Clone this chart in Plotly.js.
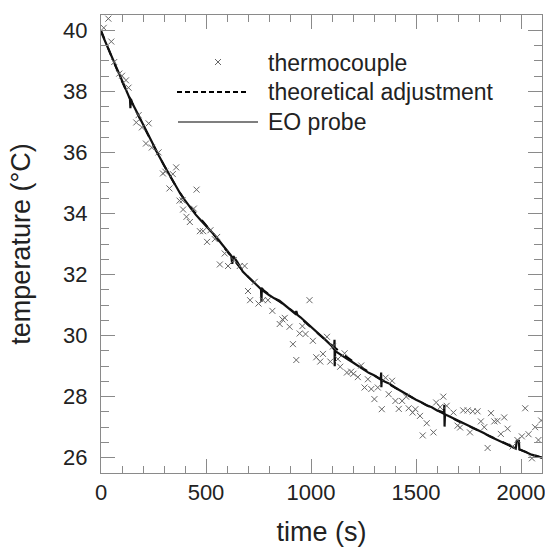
<!DOCTYPE html>
<html>
<head>
<meta charset="utf-8">
<script src="https://cdn.plot.ly/plotly-3.0.1.min.js"></script>
<style>html,body{margin:0;padding:0;background:#fff;}#chart{width:545px;height:547px;}</style>
</head>
<body>
<div id="chart"></div>
<script>
// thermocouple readings (time s, temperature °C)
var tcTime = [13,35,49,63,87,100,119,131,168,179,195,227,214,242,274,295,306,326,342,358,374,388,391,407,423,442,455,471,486,505,521,542,553,566,589,605,632,661,684,700,710,732,750,771,795,816,851,864,875,898,914,930,946,959,974,993,1009,1025,1044,1057,1076,1092,1104,1128,1139,1160,1171,1191,1202,1223,1239,1255,1271,1287,1302,1318,1337,1355,1370,1386,1402,1418,1434,1453,1465,1484,1497,1519,1532,1551,1583,1596,1615,1630,1646,1678,1698,1710,1725,1746,1757,1770,1793,1809,1825,1841,1857,1873,1888,1904,1920,1936,1960,1983,2004,2020,2036,2052,2067,2083,2096];
var tcTemp = [40.08,40.38,39.63,38.96,38.58,38.51,38.36,38.12,36.98,37.22,36.82,36.95,36.29,36.16,36.0,35.31,35.37,34.82,35.29,35.51,34.42,34.43,34.13,33.89,33.72,34.16,34.78,33.42,33.42,33.07,33.45,33.16,33.23,32.33,32.69,32.28,32.47,32.28,32.28,31.46,31.16,31.76,31.05,31.16,31.16,30.81,30.38,30.53,30.58,30.29,29.72,29.2,30.07,30.31,30.05,31.16,29.83,29.29,29.15,29.4,29.96,29.15,29.64,29.23,28.98,29.42,28.79,28.82,28.75,28.64,29.02,28.3,28.57,28.25,27.92,28.3,27.59,28.62,28.08,28.52,27.86,27.6,27.86,28.0,27.62,27.48,27.59,27.37,26.73,27.13,26.83,27.81,27.66,28.0,27.7,27.48,27.05,26.99,27.55,27.55,26.83,27.52,27.52,27.19,27.0,26.32,27.46,27.19,27.21,26.78,27.32,26.95,26.37,26.58,26.7,27.62,26.77,25.98,27.0,26.58,27.22];

// theoretical adjustment (read every 100 s)
var fitTime = [0,100,200,300,400,500,600,700,800,900,1000,1100,1200,1300,1400,1500,1600,1700,1800,1900,2000,2100];
var fitTemp = [40.0,38.33,36.9,35.58,34.43,33.62,32.77,31.93,31.35,30.87,30.27,29.68,29.15,28.7,28.3,27.9,27.55,27.2,26.88,26.55,26.25,26.0];

// EO probe readings
var eoTime = [0,25,50,75,100,125,138,140,142,150,175,200,225,250,275,300,325,350,375,400,425,450,475,500,525,550,575,600,620,625,630,650,675,700,725,750,762,764,766,775,800,825,850,875,900,925,930,935,950,975,1000,1025,1050,1075,1100,1110,1112,1113,1115,1125,1150,1175,1200,1225,1250,1275,1300,1325,1332,1334,1335,1337,1350,1375,1400,1425,1450,1475,1500,1525,1550,1575,1600,1625,1633,1635,1636,1638,1650,1675,1700,1725,1750,1775,1800,1825,1850,1875,1900,1925,1950,1975,1980,1990,1992,2000,2025,2050,2075,2100];
var eoTemp = [39.95,39.55,39.1,38.7,38.33,37.95,37.75,37.45,37.75,37.6,37.25,36.9,36.55,36.22,35.9,35.58,35.27,34.98,34.68,34.43,34.18,33.97,33.78,33.6,33.42,33.22,33.0,32.8,32.62,32.35,32.6,32.4,32.1,31.93,31.78,31.6,31.52,31.1,31.56,31.45,31.33,31.22,31.14,31.0,30.87,30.72,30.8,30.68,30.6,30.45,30.28,30.12,29.98,29.82,29.65,29.55,29.86,29.0,29.5,29.45,29.32,29.22,29.12,29.0,28.9,28.78,28.7,28.6,28.56,28.79,28.31,28.55,28.5,28.42,28.3,28.2,28.08,27.98,27.9,27.82,27.72,27.65,27.55,27.5,27.46,27.73,27.02,27.42,27.38,27.3,27.2,27.12,27.04,26.96,26.88,26.8,26.7,26.62,26.55,26.45,26.38,26.3,26.55,26.55,26.28,26.25,26.18,26.1,26.05,26.0];

var legendLabels = ["thermocouple", "theoretical adjustment", "EO probe"];
var xTitle = "time (s)";
var yTitle = "temperature (°C)";

var axisColor = "#8a8a8a";
var textColor = "#222";
var font = "Liberation Sans, Arial, sans-serif";

var traces = [
  {x: fitTime, y: fitTemp, mode: "lines", line: {color: "#000", width: 2, dash: "dash", shape: "spline"}, showlegend: false, hoverinfo: "skip"},
  {x: eoTime, y: eoTemp, mode: "lines", line: {color: "#111", width: 2.2}, showlegend: false, hoverinfo: "skip"},
  {x: tcTime, y: tcTemp, mode: "markers", marker: {symbol: "x-thin-open", size: 6, color: "#666", line: {color: "#666", width: 1}}, showlegend: false, hoverinfo: "skip"}
];

var L = 101, R = 542, T = 15, B = 473;
function px(x){ return (x - L) / (R - L); }
function py(y){ return (B - y) / (B - T); }

var layout = {
  width: 545, height: 547,
  margin: {l: L, r: 545 - R, t: T, b: 547 - B, pad: 0},
  paper_bgcolor: "#fff", plot_bgcolor: "#fff",
  font: {family: font, color: textColor},
  showlegend: false,
  xaxis: {
    range: [0, 2100], tick0: 0, dtick: 500,
    ticks: "inside", ticklen: 14, tickwidth: 1, tickcolor: axisColor,
    minor: {dtick: 100, ticks: "inside", ticklen: 7, tickwidth: 1, tickcolor: axisColor, showgrid: false},
    showline: true, linecolor: axisColor, linewidth: 1, mirror: "allticks",
    showgrid: false, zeroline: false,
    ticklabeloverflow: "allow",
    tickfont: {size: 22, color: textColor, family: font},
    title: {text: xTitle, font: {size: 27, color: textColor, family: font}, standoff: 20}
  },
  yaxis: {
    range: [25.5, 40.5], tick0: 26, dtick: 2,
    ticks: "inside", ticklen: 14, tickwidth: 1, tickcolor: axisColor,
    minor: {dtick: 0.5, ticks: "inside", ticklen: 8, tickwidth: 1, tickcolor: axisColor, showgrid: false},
    showline: true, linecolor: axisColor, linewidth: 1, mirror: "allticks",
    showgrid: false, zeroline: false,
    ticklabelstandoff: 8,
    ticklabeloverflow: "allow",
    tickfont: {size: 22, color: textColor, family: font},
    title: {text: yTitle, font: {size: 27, color: textColor, family: font}, standoff: 24}
  },
  annotations: [
    {xref: "paper", yref: "paper", x: px(266), y: py(63), xanchor: "left", yanchor: "middle", text: legendLabels[0], showarrow: false, font: {size: 23, color: textColor, family: font}},
    {xref: "paper", yref: "paper", x: px(266), y: py(92), xanchor: "left", yanchor: "middle", text: legendLabels[1], showarrow: false, font: {size: 23, color: textColor, family: font}},
    {xref: "paper", yref: "paper", x: px(266), y: py(122), xanchor: "left", yanchor: "middle", text: legendLabels[2], showarrow: false, font: {size: 23, color: textColor, family: font}}
  ],
  shapes: [
    {type: "path", xref: "paper", yref: "paper", xsizemode: "pixel", ysizemode: "pixel", xanchor: px(218), yanchor: py(62), path: "M-3,-3L3,3M-3,3L3,-3", line: {color: "#666", width: 1}},
    {type: "line", xref: "paper", yref: "paper", x0: px(177), x1: px(248), y0: py(92), y1: py(92), line: {color: "#000", width: 2, dash: "5px,3px"}},
    {type: "line", xref: "paper", yref: "paper", x0: px(178), x1: px(258), y0: py(122), y1: py(122), line: {color: "#555", width: 1.3}}
  ]
};

Plotly.newPlot("chart", traces, layout, {staticPlot: true, displayModeBar: false});
</script>
</body>
</html>
